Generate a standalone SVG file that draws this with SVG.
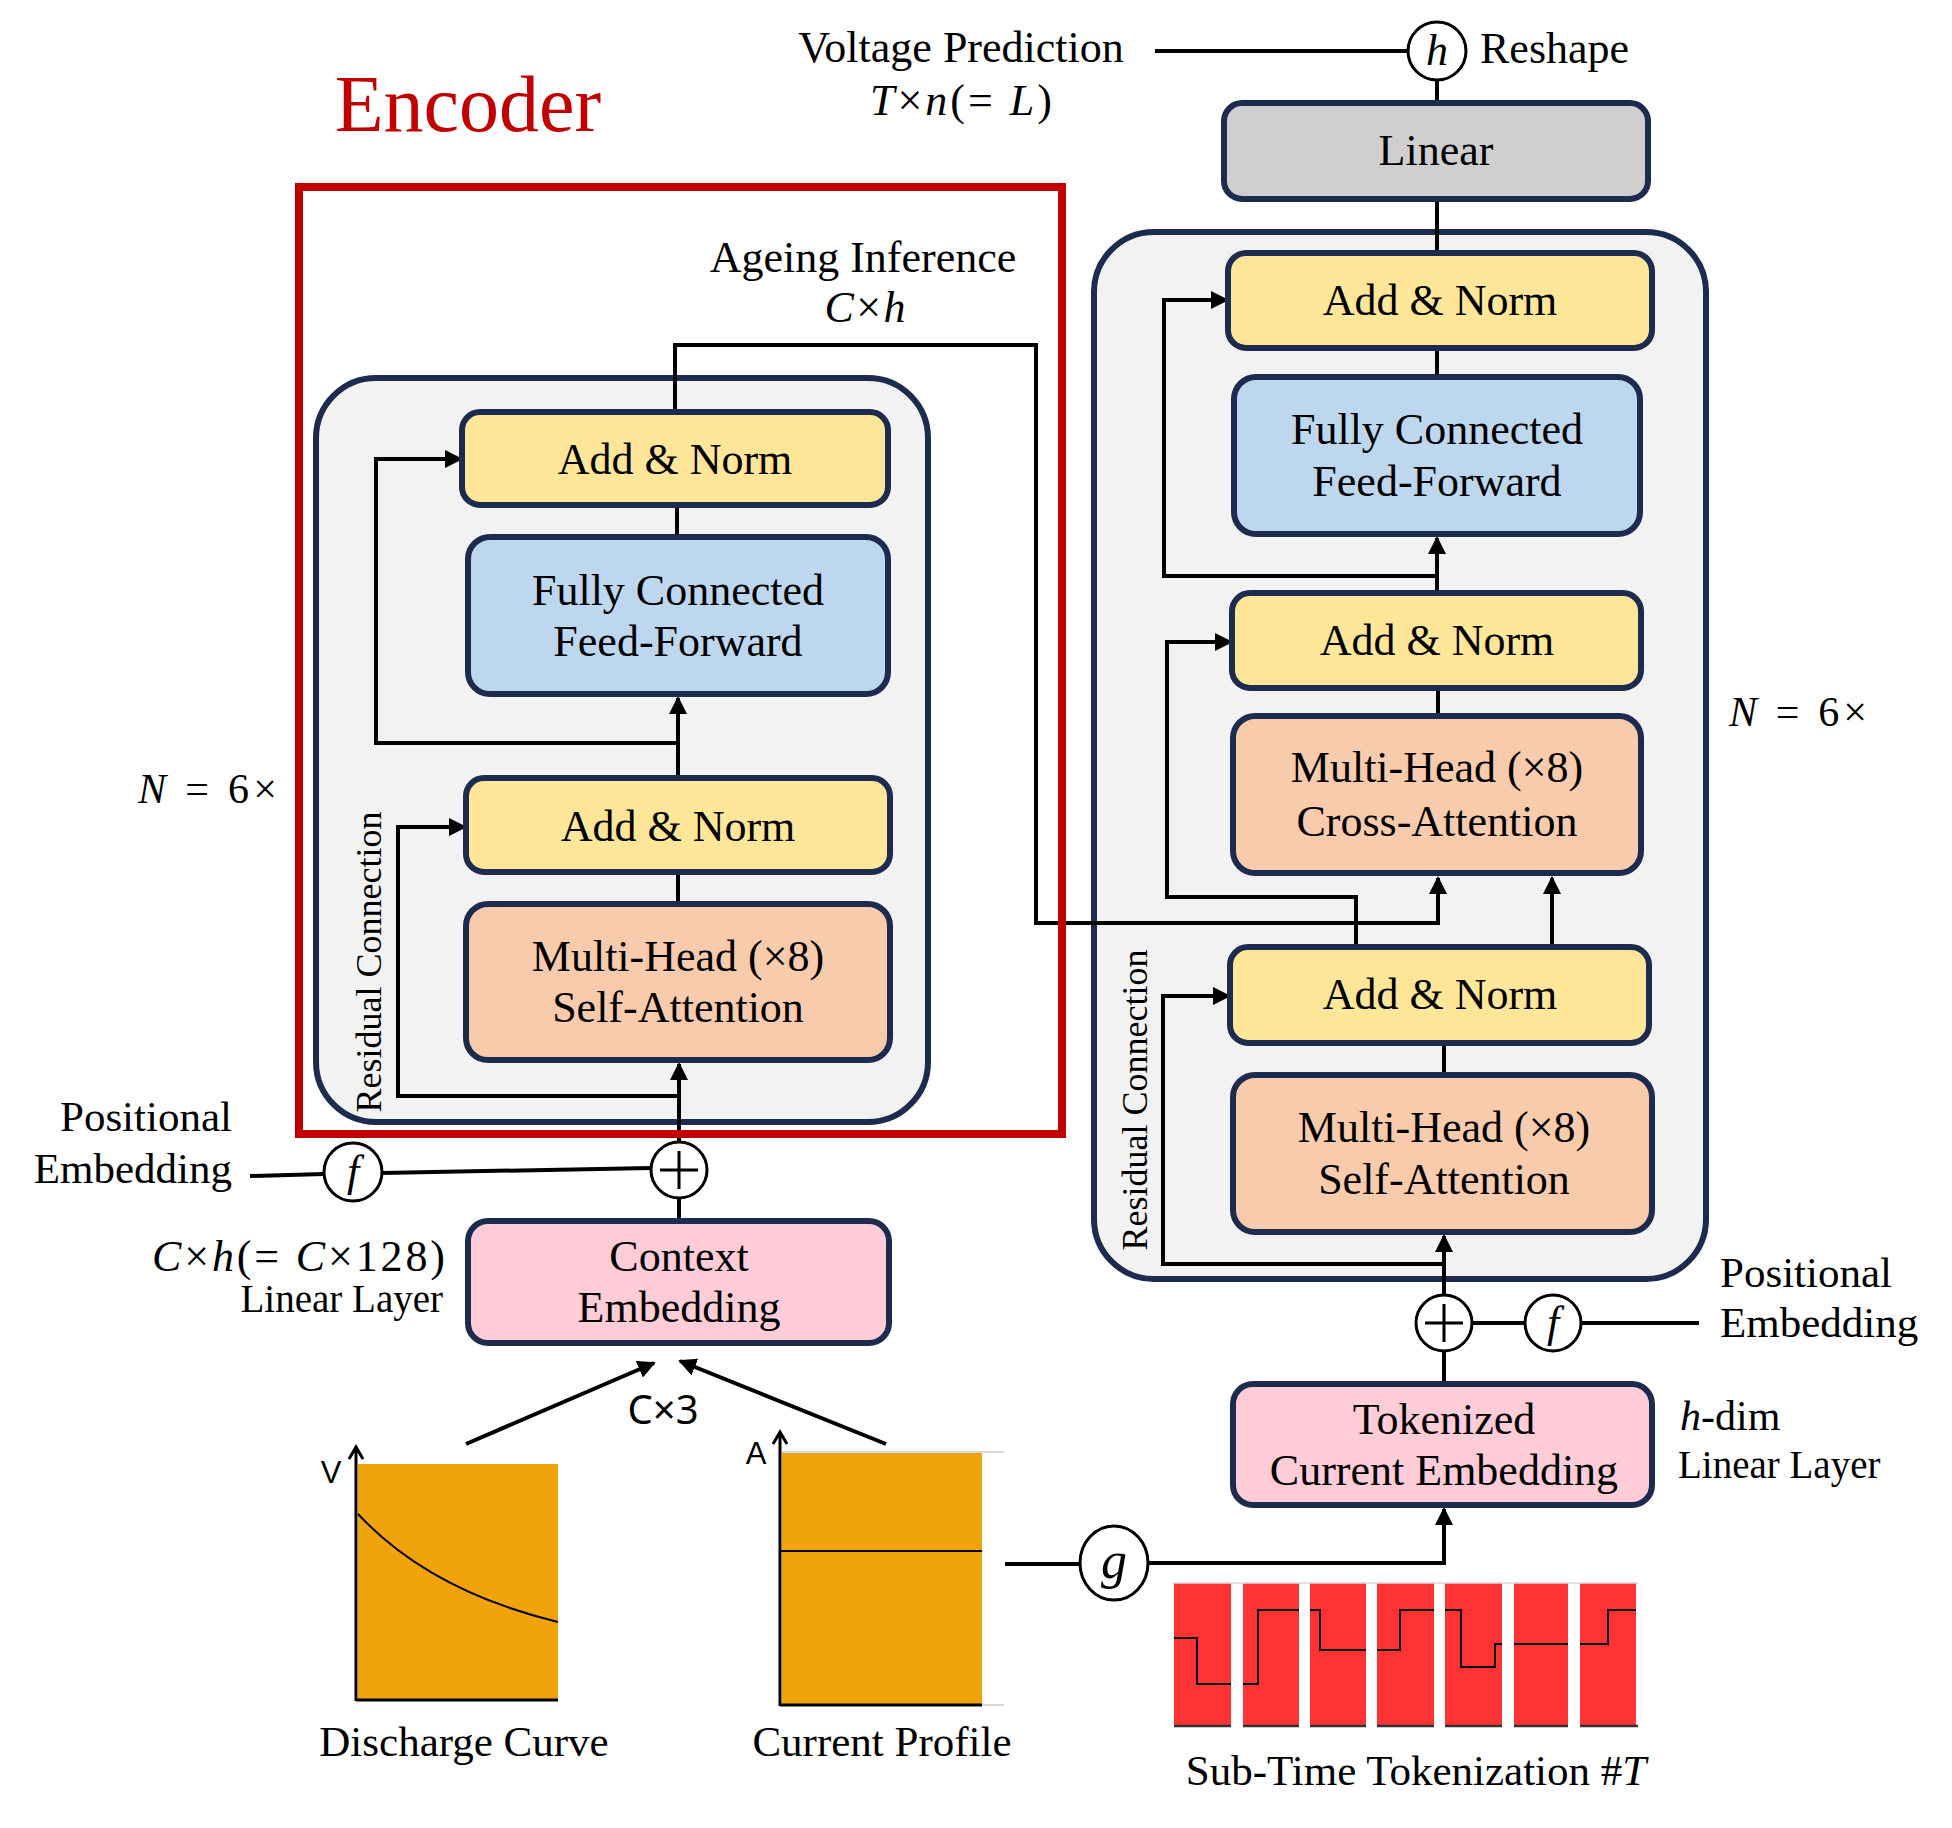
<svg xmlns="http://www.w3.org/2000/svg" width="1952" height="1828" viewBox="0 0 1952 1828">
<style>
.t{font-family:"Liberation Serif","Times New Roman",serif;font-size:44px;fill:#000;text-anchor:middle}
.s{text-anchor:start}.e{text-anchor:end}
.i{font-style:italic}
.sans{font-family:"Liberation Sans",Arial,sans-serif}
.node{stroke:#1C2B4E;stroke-width:6}
.an{fill:#FFE699}.ff{fill:#BDD7EE}.att{fill:#F8CBAD}.emb{fill:#FFCCD8}.lin{fill:#D0CECE}
.cont{fill:#F2F2F2;stroke:#1C2B4E;stroke-width:6}
.c{stroke:#000;stroke-width:4;fill:none}
.circ{fill:#fff;stroke:#000;stroke-width:3}
.ax{stroke:#000;stroke-width:3;fill:none}
.thin{stroke:#000;stroke-width:2;fill:none}
</style>
<defs>
<marker id="ah" markerUnits="userSpaceOnUse" markerWidth="20" markerHeight="20" viewBox="0 0 20 20" refX="16" refY="9" orient="auto">
<path d="M0,0 L18,9 L0,18 z" fill="#000"/>
</marker>
</defs>

<!-- containers -->
<g id="encoder-block">
<rect class="cont" x="316" y="378" width="612" height="744" rx="60"/>
<text class="t" style="font-size:36px" transform="translate(381,962) rotate(-90)">Residual Connection</text>
</g>
<g id="decoder-block">
<rect class="cont" x="1094" y="232" width="612" height="1047" rx="60"/>
<text class="t" style="font-size:36px" transform="translate(1147,1100) rotate(-90)">Residual Connection</text>
</g>

<!-- connectors -->
<g id="connectors">
<path class="c" d="M675,412 V345 H1036 V923 H1438 V878" marker-end="url(#ah)"/>
<path class="c" d="M677,505 V537"/>
<path class="c" d="M678,778 V698" marker-end="url(#ah)"/>
<path class="c" d="M678,743 H376 V459 H461" marker-end="url(#ah)"/>
<path class="c" d="M678,872 V904"/>
<path class="c" d="M679,1142 V1064" marker-end="url(#ah)"/>
<path class="c" d="M679,1096 H398 V827 H465" marker-end="url(#ah)"/>
<path class="c" d="M679,1198 V1221"/>
<path class="c" d="M250,1176 L324,1174"/>
<path class="c" d="M382,1173 L651,1168"/>
<path class="c" stroke-width="5" d="M466,1444 L654,1363" marker-end="url(#ah)"/>
<path class="c" stroke-width="5" d="M886,1444 L680,1361" marker-end="url(#ah)"/>

<path class="c" d="M1155,51 H1408"/>
<path class="c" d="M1437,80 V103"/>
<path class="c" d="M1437,199 V253"/>
<path class="c" d="M1437,348 V377"/>
<path class="c" d="M1437,593 V538" marker-end="url(#ah)"/>
<path class="c" d="M1437,576 H1164 V300 H1227" marker-end="url(#ah)"/>
<path class="c" d="M1438,688 V716"/>
<path class="c" d="M1356,947 V897 H1167 V642 H1231" marker-end="url(#ah)"/>
<path class="c" d="M1552,947 V878" marker-end="url(#ah)"/>
<path class="c" d="M1444,1043 V1075"/>
<path class="c" d="M1444,1295 V1236" marker-end="url(#ah)"/>
<path class="c" d="M1444,1264 H1163 V996 H1229" marker-end="url(#ah)"/>
<path class="c" d="M1444,1351 V1384"/>
<path class="c" d="M1472,1323 H1525"/>
<path class="c" d="M1581,1323 H1699"/>
<path class="c" d="M1005,1564 H1080"/>
<path class="c" d="M1148,1563 H1444 V1509" marker-end="url(#ah)"/>
</g>

<!-- encoder nodes -->
<g id="enc-addnorm-top"><rect class="node an" x="462" y="412" width="426" height="93" rx="18"/><text class="t" x="675" y="474">Add &amp; Norm</text></g>
<g id="enc-ff"><rect class="node ff" x="468" y="537" width="420" height="157" rx="22"/><text class="t" x="678" y="605">Fully Connected</text><text class="t" x="678" y="656">Feed-Forward</text></g>
<g id="enc-addnorm-bottom"><rect class="node an" x="466" y="778" width="424" height="94" rx="18"/><text class="t" x="678" y="841">Add &amp; Norm</text></g>
<g id="enc-mhsa"><rect class="node att" x="466" y="904" width="424" height="156" rx="22"/><text class="t" x="678" y="971">Multi-Head (×8)</text><text class="t" x="678" y="1022">Self-Attention</text></g>
<g id="context-embedding"><rect class="node emb" x="468" y="1221" width="421" height="122" rx="20"/><text class="t" x="679" y="1271">Context</text><text class="t" x="679" y="1322">Embedding</text></g>

<!-- decoder nodes -->
<g id="linear"><rect class="node lin" x="1224" y="103" width="424" height="96" rx="18"/><text class="t" x="1436" y="165">Linear</text></g>
<g id="dec-addnorm-top"><rect class="node an" x="1228" y="253" width="424" height="95" rx="18"/><text class="t" x="1440" y="315">Add &amp; Norm</text></g>
<g id="dec-ff"><rect class="node ff" x="1234" y="377" width="406" height="157" rx="22"/><text class="t" x="1437" y="444">Fully Connected</text><text class="t" x="1437" y="496">Feed-Forward</text></g>
<g id="dec-addnorm-mid"><rect class="node an" x="1232" y="593" width="409" height="95" rx="18"/><text class="t" x="1437" y="655">Add &amp; Norm</text></g>
<g id="dec-cross"><rect class="node att" x="1233" y="716" width="408" height="157" rx="22"/><text class="t" x="1437" y="782">Multi-Head (×8)</text><text class="t" x="1437" y="836">Cross-Attention</text></g>
<g id="dec-addnorm-bottom"><rect class="node an" x="1230" y="947" width="419" height="96" rx="18"/><text class="t" x="1440" y="1009">Add &amp; Norm</text></g>
<g id="dec-mhsa"><rect class="node att" x="1233" y="1075" width="419" height="157" rx="22"/><text class="t" x="1444" y="1142">Multi-Head (×8)</text><text class="t" x="1444" y="1194">Self-Attention</text></g>
<g id="tokenized-embedding"><rect class="node emb" x="1233" y="1384" width="419" height="121" rx="20"/><text class="t" x="1444" y="1434">Tokenized</text><text class="t" x="1444" y="1485">Current Embedding</text></g>

<!-- encoder frame -->
<g id="encoder-frame">
<rect x="299" y="187" width="763" height="947" fill="none" stroke="#C00000" stroke-width="8"/>
<text class="t" x="468" y="131" style="font-size:80px;fill:#C00000">Encoder</text>
</g>

<!-- operators -->
<g id="enc-plus"><circle class="circ" cx="679" cy="1170" r="28"/><path class="ax" d="M660,1170 H698 M679,1151 V1189"/></g>
<g id="enc-f"><circle class="circ" cx="353" cy="1172" r="29"/><text class="t i" x="353" y="1186">f</text></g>
<g id="dec-plus"><circle class="circ" cx="1444" cy="1323" r="28"/><path class="ax" d="M1425,1323 H1463 M1444,1304 V1342"/></g>
<g id="dec-f"><circle class="circ" cx="1553" cy="1323" r="28"/><text class="t i" x="1553" y="1337">f</text></g>
<g id="g-op"><ellipse class="circ" cx="1114" cy="1563" rx="34" ry="37"/><text class="t i" x="1114" y="1578" style="font-size:52px">g</text></g>
<g id="h-op"><circle class="circ" cx="1437" cy="51" r="29"/><text class="t i" x="1437" y="65">h</text></g>

<!-- labels -->
<g id="labels">
<text class="t" x="961" y="62">Voltage Prediction</text>
<text class="t" x="961" y="115" style="font-size:44px" textLength="182"><tspan class="i">T</tspan>×<tspan class="i">n</tspan>(= <tspan class="i">L</tspan>)</text>
<text class="t s" x="1480" y="63">Reshape</text>
<text class="t" x="863" y="272">Ageing Inference</text>
<text class="t" x="865" y="322" style="font-size:44px" textLength="81"><tspan class="i">C</tspan>×<tspan class="i">h</tspan></text>
<text class="t s" x="138" y="803" style="font-size:42px" textLength="139"><tspan class="i">N</tspan> = 6×</text>
<text class="t s" x="1729" y="726" style="font-size:42px" textLength="138"><tspan class="i">N</tspan> = 6×</text>
<text class="t e" x="232" y="1131" style="font-size:43px">Positional</text>
<text class="t e" x="232" y="1183" style="font-size:43px">Embedding</text>
<text class="t s" x="1720" y="1287" style="font-size:43px">Positional</text>
<text class="t s" x="1720" y="1337" style="font-size:43px">Embedding</text>
<text class="t e" x="445" y="1271" style="font-size:44px" textLength="293"><tspan class="i">C</tspan>×<tspan class="i">h</tspan>(= <tspan class="i">C</tspan>×128)</text>
<text class="t e" x="443" y="1312" style="font-size:39px">Linear Layer</text>
<text class="t" x="663" y="1424" style="font-size:40px;font-family:'Noto Sans',sans-serif">C×3</text>
<text class="t s" x="1680" y="1430" style="font-size:42px"><tspan class="i">h</tspan>-dim</text>
<text class="t s" x="1678" y="1478" style="font-size:39px">Linear Layer</text>
<text class="t" x="464" y="1756" style="font-size:43px">Discharge Curve</text>
<text class="t" x="882" y="1756" style="font-size:43px">Current Profile</text>
<text class="t" x="1416" y="1785" style="font-size:43px">Sub-Time Tokenization #<tspan class="i">T</tspan></text>
</g>

<!-- discharge chart -->
<g id="discharge-chart">
<rect x="358" y="1464" width="200" height="236" fill="#F0A30A"/>
<path class="ax" d="M356,1701 V1447 M349,1459 L356,1447 L363,1459 M356,1700 H558"/>
<path class="thin" d="M358,1514 C410,1570 480,1603 558,1622"/>
<text class="t sans" x="331" y="1483" style="font-size:31px;font-family:'Liberation Sans',Arial,sans-serif">V</text>
</g>

<!-- current profile chart -->
<g id="current-chart">
<rect x="782" y="1452" width="200" height="253" fill="#F0A30A"/>
<path stroke="#D9D9D9" stroke-width="2" d="M782,1452 H1004 M982,1705 H1004"/>
<path class="ax" d="M780,1706 V1432 M773,1444 L780,1432 L787,1444 M780,1705 H982"/>
<path class="thin" d="M780,1551 H982"/>
<text class="t sans" x="756" y="1464" style="font-size:31px;font-family:'Liberation Sans',Arial,sans-serif">A</text>
</g>

<!-- tokenization -->
<g id="tokenization">
<g fill="#FF3333">
<rect x="1174" y="1583" width="57" height="143"/>
<rect x="1243" y="1583" width="56" height="143"/>
<rect x="1310" y="1583" width="56" height="143"/>
<rect x="1377" y="1583" width="57" height="143"/>
<rect x="1445" y="1583" width="57" height="143"/>
<rect x="1514" y="1583" width="54" height="143"/>
<rect x="1580" y="1583" width="56" height="143"/>
</g>
<path stroke="#D9D9D9" stroke-width="1.5" d="M1172,1583 H1638"/>
<path stroke="#333" stroke-width="2.5" d="M1174,1726 H1231 M1243,1726 H1299 M1310,1726 H1366 M1377,1726 H1434 M1445,1726 H1502 M1514,1726 H1568 M1580,1726 H1638"/>
<path class="thin" d="M1174,1638 H1197 V1684 H1231 M1243,1684 H1258 V1610 H1299 M1310,1610 H1320 V1650 H1366 M1377,1650 H1400 V1610 H1434 M1445,1610 H1461 V1667 H1495 V1644 H1502 M1514,1644 H1568 M1580,1644 H1608 V1610 H1636"/>
</g>
</svg>
